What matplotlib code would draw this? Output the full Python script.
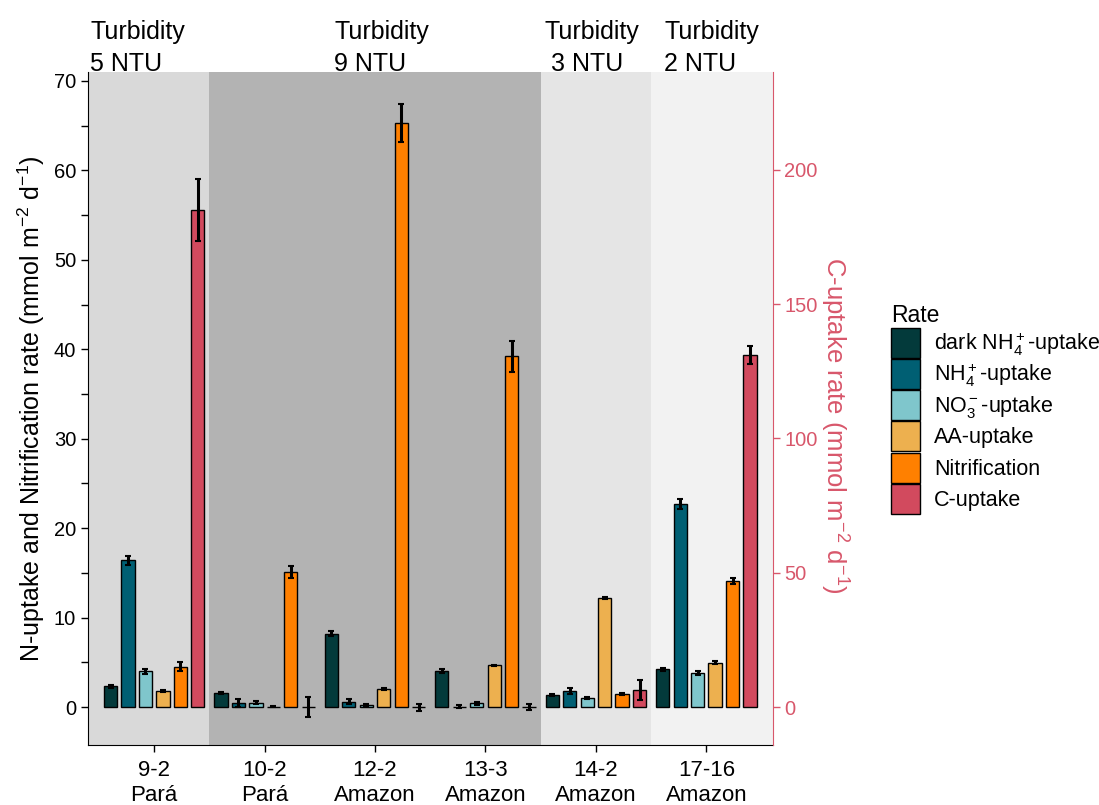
import numpy as np
import matplotlib
matplotlib.use("Agg")
import matplotlib.pyplot as plt
from matplotlib.patches import Patch

plt.rcParams['font.family'] = ['Liberation Sans', 'DejaVu Sans']
plt.rcParams['mathtext.fontset'] = 'custom'
plt.rcParams['mathtext.rm'] = 'Liberation Sans'
plt.rcParams['mathtext.it'] = 'Liberation Sans'
plt.rcParams['mathtext.default'] = 'regular'

# stations
stations = ['9-2\nPará', '10-2\nPará', '12-2\nAmazon', '13-3\nAmazon', '14-2\nAmazon', '17-16\nAmazon']

# N rates (mmol m-2 d-1), left axis
dark_nh4 = [2.3, 1.55, 8.2, 4.0, 1.35, 4.2]
dark_nh4_err = [0.15, 0.1, 0.25, 0.2, 0.1, 0.15]
nh4 = [16.4, 0.45, 0.6, 0.05, 1.8, 22.7]
nh4_err = [0.5, 0.4, 0.3, 0.2, 0.35, 0.6]
no3 = [4.0, 0.5, 0.2, 0.4, 1.05, 3.8]
no3_err = [0.3, 0.15, 0.1, 0.15, 0.1, 0.25]
aa = [1.8, 0.05, 2.0, 4.65, 12.15, 4.95]
aa_err = [0.15, 0.1, 0.15, 0.1, 0.1, 0.15]
nitrif = [4.5, 15.1, 65.3, 39.2, 1.45, 14.1]
nitrif_err = [0.5, 0.7, 2.1, 1.7, 0.1, 0.35]

# C-uptake (mmol m-2 d-1), right axis
c_uptake = [185, 0, 0, 0, 6.3, 131]
c_err = [11.5, 3.7, 1.3, 1.0, 3.8, 3.3]
C_SCALE = 3.33

rate_names = [r'dark NH$_4^+$-uptake', r'NH$_4^+$-uptake', r'NO$_3^-$-uptake',
              'AA-uptake', 'Nitrification', 'C-uptake']
rate_colors = ['#033A3B', '#005F73', '#7FC6CC', '#EDB04F', '#FF8000', '#D24A5E']

turb_labels = ['Turbidity\n5 NTU', 'Turbidity\n9 NTU', 'Turbidity\n 3 NTU', 'Turbidity\n2 NTU']
turb_x = [0.42, 2.63, 4.53, 5.62]
# shaded spans (start, end, colour)
spans = [(0.4, 1.5, '#D9D9D9'), (1.5, 4.5, '#B3B3B3'), (4.5, 5.5, '#E5E5E5'), (5.5, 6.6, '#F2F2F2')]

RED = '#D8576B'

fig = plt.figure(figsize=(10.99, 8.05), dpi=100)
ax = fig.add_axes([0.080, 0.0745, 0.623, 0.836])

for x0, x1, col in spans:
    ax.axvspan(x0, x1, color=col, lw=0, zorder=0)

x = np.arange(1, len(stations) + 1)
slot = 0.158
bw = 0.12
series = [(dark_nh4, dark_nh4_err), (nh4, nh4_err), (no3, no3_err),
          (aa, aa_err), (nitrif, nitrif_err),
          (list(np.array(c_uptake) / C_SCALE), list(np.array(c_err) / C_SCALE))]

for k, (vals, errs) in enumerate(series):
    xs = x + (k - 2.5) * slot
    ax.bar(xs, vals, width=bw, color=rate_colors[k], edgecolor='black', linewidth=1.0, zorder=2)
    ax.errorbar(xs, vals, yerr=errs, fmt='none', ecolor='black', elinewidth=2.2,
                capsize=2, capthick=1.5, zorder=3)

ax.set_xlim(0.4, 6.6)
ax.set_ylim(-4.25, 71)
ax.set_xticks(x)
ax.set_xticklabels(stations, fontsize=16, linespacing=1.25)
ax.set_yticks(np.arange(0, 71, 10))
ax.set_yticks(np.arange(5, 70, 10), minor=True)
ax.tick_params(axis='both', which='both', length=5, width=1, labelsize=14.5, colors='black')
ax.tick_params(axis='x', labelsize=16, pad=6)
ax.spines['top'].set_visible(False)
ax.spines['right'].set_visible(False)
ax.set_ylabel(r'N-uptake and Nitrification rate (mmol m$^{-2}$ d$^{-1}$)', fontsize=18, labelpad=5)

ax2 = ax.twinx()
lo, hi = ax.get_ylim()
ax2.set_ylim(lo * C_SCALE, hi * C_SCALE)
ax2.set_yticks([0, 50, 100, 150, 200])
ax2.tick_params(axis='y', length=5, width=1, colors=RED, labelsize=14.5)
for s in ['top', 'left', 'bottom']:
    ax2.spines[s].set_visible(False)
ax2.spines['right'].set_color(RED)
ax2.set_ylabel(r'C-uptake rate (mmol m$^{-2}$ d$^{-1}$)', fontsize=18.5, color=RED,
               rotation=270, labelpad=22)
ax2.yaxis.set_label_coords(1.113, 0.475)

for tx, lab in zip(turb_x, turb_labels):
    ax.text(tx, 1.0775, lab, transform=ax.get_xaxis_transform(), ha='left', va='top',
            fontsize=18, linespacing=1.45)

handles = [Patch(facecolor=c, edgecolor='black', linewidth=1.0) for c in rate_colors]
leg = fig.legend(handles, rate_names, loc='upper left', bbox_to_anchor=(891 / 1099, 1 - 304 / 805),
                 frameon=False, title='Rate', fontsize=15.5, title_fontsize=16.5,
                 handlelength=1.35, handleheight=1.77, labelspacing=0.05, handletextpad=0.65,
                 borderpad=0, borderaxespad=0, alignment='left')

fig.savefig('out.png', dpi=100)
